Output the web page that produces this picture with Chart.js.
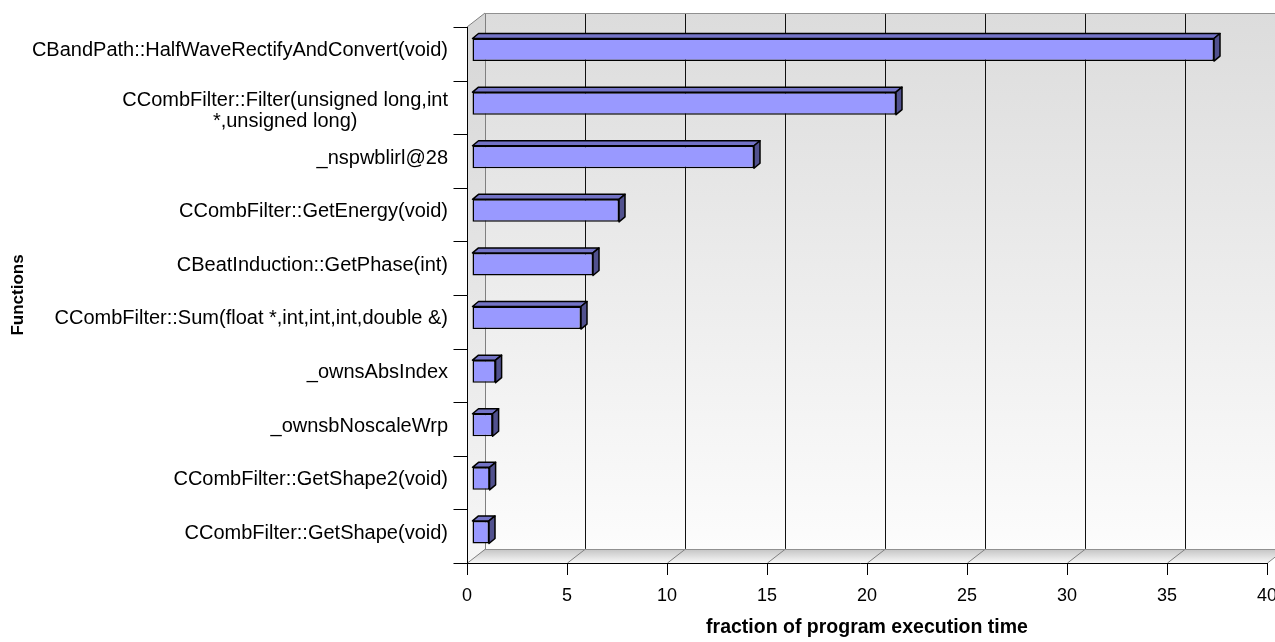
<!DOCTYPE html>
<html>
<head>
<meta charset="utf-8">
<script src="https://cdn.jsdelivr.net/npm/chart.js@4.4.0/dist/chart.umd.min.js"></script>
<style>
  html, body { margin: 0; padding: 0; background: #fff; }
</style>
</head>
<body>
<canvas id="profileChart" width="1275" height="642"></canvas>
<script>
// profile data, top bar first
const functionNames = [
  "CBandPath::HalfWaveRectifyAndConvert(void)",
  ["CCombFilter::Filter(unsigned long,int", "*,unsigned long)"],
  "_nspwblirl@28",
  "CCombFilter::GetEnergy(void)",
  "CBeatInduction::GetPhase(int)",
  "CCombFilter::Sum(float *,int,int,int,double &)",
  "_ownsAbsIndex",
  "_ownsbNoscaleWrp",
  "CCombFilter::GetShape2(void)",
  "CCombFilter::GetShape(void)"
];
const timeFraction = [37.1, 21.2, 14.1, 7.35, 6.05, 5.45, 1.18, 1.03, 0.88, 0.85];
const xTicks = [0, 5, 10, 15, 20, 25, 30, 35, 40];

const FONT = "'Liberation Sans', Arial, sans-serif";
// 3d look: back wall offset, bar plane offset, bar depth
const WALL_DX = 18, WALL_DY = -14;
const BAR_SHIFT_X = 5, BAR_SHIFT_Y = -4;
const BAR_DX = 6, BAR_DY = -5;

const line = (ctx, x1, y1, x2, y2, color, w) => {
  ctx.beginPath();
  ctx.moveTo(x1, y1);
  ctx.lineTo(x2, y2);
  ctx.strokeStyle = color;
  ctx.lineWidth = w || 1;
  ctx.stroke();
};

const frame3d = {
  id: "frame3d",
  beforeDraw(chart) {
    const { ctx, chartArea: a, scales: { x, y } } = chart;
    const bx0 = a.left + WALL_DX, bx1 = a.right + WALL_DX;
    const by0 = a.top + WALL_DY, by1 = a.bottom + WALL_DY;
    ctx.save();

    let g = ctx.createLinearGradient(0, by0, 0, by1);
    g.addColorStop(0, "#dcdcdc");
    g.addColorStop(1, "#fcfcfc");
    ctx.fillStyle = g;
    ctx.fillRect(bx0, by0, bx1 - bx0, by1 - by0);

    // side wall
    g = ctx.createLinearGradient(0, by0, 0, a.bottom);
    g.addColorStop(0, "#d6d6d6");
    g.addColorStop(1, "#f6f6f6");
    ctx.fillStyle = g;
    ctx.beginPath();
    ctx.moveTo(a.left, a.top);
    ctx.lineTo(bx0, by0);
    ctx.lineTo(bx0, by1);
    ctx.lineTo(a.left, a.bottom);
    ctx.closePath();
    ctx.fill();

    // floor
    g = ctx.createLinearGradient(0, by1, 0, a.bottom);
    g.addColorStop(0, "#c4c4c4");
    g.addColorStop(1, "#f8f8f8");
    ctx.fillStyle = g;
    ctx.beginPath();
    ctx.moveTo(a.left, a.bottom);
    ctx.lineTo(bx0, by1);
    ctx.lineTo(bx1, by1);
    ctx.lineTo(a.right, a.bottom);
    ctx.closePath();
    ctx.fill();

    // grid on back wall + floor
    xTicks.forEach(v => {
      const px = Math.round(x.getPixelForValue(v)) + 0.5;
      if (v > 0) line(ctx, px + WALL_DX, by0, px + WALL_DX, by1, "#111");
      line(ctx, px, a.bottom, px + WALL_DX, by1, "#808080");
    });
    line(ctx, bx0 + 0.5, by0, bx0 + 0.5, by1, "#808080");
    line(ctx, bx0, by0 + 0.5, bx1, by0 + 0.5, "#909090");
    line(ctx, a.left, a.top, bx0, by0, "#808080");
    line(ctx, bx0, by1 + 0.5, bx1, by1 + 0.5, "#909090");

    // front axes
    const L = Math.round(a.left) + 0.5, B = Math.round(a.bottom) + 0.5;
    line(ctx, L, a.top, L, B, "#000");
    line(ctx, L - 14, B, a.right, B, "#000");
    const slot = (a.bottom - a.top) / functionNames.length;
    functionNames.forEach((_, i) => {
      const yy = Math.round(y.getPixelForValue(i) - slot / 2) + 0.5;
      line(ctx, L - 14, yy, L, yy, "#000");
    });
    ctx.restore();
  },
  beforeDatasetsDraw(chart) {
    const ctx = chart.ctx;
    ctx.save();
    ctx.translate(BAR_SHIFT_X, BAR_SHIFT_Y);
    chart.getDatasetMeta(0).data.forEach(bar => {
      const { x, y, base, height } = bar.getProps(["x", "y", "base", "height"]);
      const top = y - height / 2, bottom = y + height / 2;
      ctx.lineWidth = 1.5;
      ctx.strokeStyle = "#000";
      ctx.lineJoin = "round";
      ctx.fillStyle = "#7373c6";
      ctx.beginPath();
      ctx.moveTo(base, top);
      ctx.lineTo(base + BAR_DX, top + BAR_DY);
      ctx.lineTo(x + BAR_DX, top + BAR_DY);
      ctx.lineTo(x, top);
      ctx.closePath();
      ctx.fill();
      ctx.stroke();
      ctx.fillStyle = "#51518e";
      ctx.beginPath();
      ctx.moveTo(x, top);
      ctx.lineTo(x + BAR_DX, top + BAR_DY);
      ctx.lineTo(x + BAR_DX, bottom + BAR_DY);
      ctx.lineTo(x, bottom);
      ctx.closePath();
      ctx.fill();
      ctx.stroke();
    });
  },
  afterDatasetsDraw(chart) {
    chart.ctx.restore();
  },
  afterDraw(chart) {
    const { ctx, scales: { y } } = chart;
    const right = 448, lh = 21;
    ctx.save();
    ctx.font = "20px " + FONT;
    ctx.fillStyle = "#000";
    ctx.textBaseline = "middle";
    functionNames.forEach((name, i) => {
      const cy = y.getPixelForValue(i) + BAR_SHIFT_Y + 1;
      if (Array.isArray(name)) {
        const w = Math.max(...name.map(s => ctx.measureText(s).width));
        ctx.textAlign = "center";
        name.forEach((s, j) => {
          ctx.fillText(s, right - w / 2, cy + 7 + (j - (name.length - 1) / 2) * lh);
        });
      } else {
        ctx.textAlign = "right";
        ctx.fillText(name, right, cy);
      }
    });
    ctx.restore();
  }
};

new Chart(document.getElementById("profileChart"), {
  type: "bar",
  data: {
    labels: functionNames,
    datasets: [{
      data: timeFraction,
      backgroundColor: "#9999ff",
      borderColor: "#000",
      borderWidth: 1.5,
      borderSkipped: false,
      categoryPercentage: 1,
      barPercentage: 0.42
    }]
  },
  options: {
    indexAxis: "y",
    responsive: false,
    animation: false,
    devicePixelRatio: 1,
    layout: { padding: { top: 27, right: 8, bottom: 0, left: 0 }, autoPadding: false },
    plugins: { legend: { display: false }, tooltip: { enabled: false } },
    scales: {
      x: {
        min: 0,
        max: 40,
        afterBuildTicks: s => { s.ticks = xTicks.map(v => ({ value: v })); },
        ticks: { color: "#000", font: { family: FONT, size: 18 }, padding: 10, maxRotation: 0 },
        grid: { drawOnChartArea: false, drawTicks: true, tickLength: 12, color: "#000" },
        border: { display: false },
        title: {
          display: true,
          text: "fraction of program execution time",
          color: "#000",
          font: { family: FONT, size: 19.5, weight: "bold" },
          padding: { top: 0, bottom: 3 }
        },
        afterFit: s => { s.height = 79; s.paddingLeft = 0; s.paddingRight = 0; }
      },
      y: {
        ticks: { display: false },
        grid: { display: false },
        border: { display: false },
        title: {
          display: true,
          text: "Functions",
          color: "#000",
          font: { family: FONT, size: 17, weight: "bold" },
          padding: { top: 8, bottom: 0 }
        },
        afterFit: s => { s.width = 467; }
      }
    }
  },
  plugins: [frame3d]
});
</script>
</body>
</html>
